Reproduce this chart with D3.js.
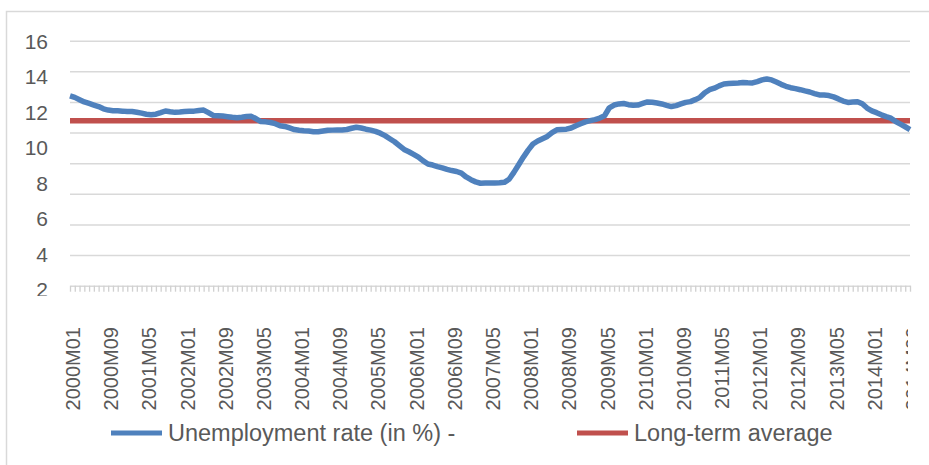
<!DOCTYPE html>
<html>
<head>
<meta charset="utf-8">
<script src="https://cdn.jsdelivr.net/npm/d3@7"></script>
<style>
  html, body { margin: 0; padding: 0; background: #fff; }
  svg { display: block; font-family: "Liberation Sans", Arial, sans-serif; }
</style>
</head>
<body>
<div id="chart"></div>
<script>
// categories: monthly, 2000M01 .. 2014M09
var years = [2000, 2001, 2002, 2003, 2004, 2005, 2006, 2007, 2008, 2009, 2010, 2011, 2012, 2013, 2014];
var months = [];
years.forEach(function (yr) {
  for (var m = 1; m <= 12; m++) {
    if (yr === 2014 && m > 9) break;
    months.push(yr + 'M' + (m < 10 ? '0' + m : m));
  }
});

// unemployment rate (in %), one row per year
var unemploymentRate = [
  12.40, 12.30, 12.15, 12.00, 11.90, 11.80, 11.70, 11.55, 11.47, 11.43, 11.42, 11.40,
  11.37, 11.38, 11.33, 11.27, 11.20, 11.17, 11.20, 11.30, 11.41, 11.36, 11.32, 11.34,
  11.37, 11.39, 11.40, 11.44, 11.47, 11.30, 11.12, 11.10, 11.08, 11.04, 11.00, 10.97,
  11.00, 11.05, 11.06, 10.90, 10.72, 10.70, 10.66, 10.58, 10.45, 10.40, 10.30, 10.20,
  10.15, 10.12, 10.10, 10.06, 10.05, 10.10, 10.15, 10.16, 10.17, 10.17, 10.20, 10.28,
  10.35, 10.30, 10.22, 10.16, 10.08, 9.96, 9.80, 9.60, 9.40, 9.15, 8.90, 8.75,
  8.58, 8.40, 8.15, 7.95, 7.88, 7.78, 7.70, 7.60, 7.52, 7.46, 7.35, 7.10,
  6.92, 6.78, 6.69, 6.70, 6.70, 6.71, 6.72, 6.75, 6.95, 7.40, 7.90, 8.40,
  8.85, 9.25, 9.45, 9.60, 9.75, 10.00, 10.18, 10.20, 10.22, 10.30, 10.45, 10.58,
  10.70, 10.78, 10.85, 10.95, 11.10, 11.62, 11.80, 11.87, 11.90, 11.82, 11.78, 11.80,
  11.90, 12.00, 11.98, 11.93, 11.87, 11.78, 11.70, 11.76, 11.87, 11.97, 12.02, 12.15,
  12.30, 12.60, 12.80, 12.90, 13.05, 13.17, 13.20, 13.22, 13.24, 13.27, 13.25, 13.24,
  13.33, 13.44, 13.50, 13.44, 13.30, 13.15, 13.02, 12.93, 12.87, 12.80, 12.72, 12.65,
  12.55, 12.46, 12.45, 12.42, 12.33, 12.20, 12.06, 11.97, 12.00, 12.02, 11.88, 11.60,
  11.42, 11.30, 11.16, 11.04, 10.94, 10.72, 10.55, 10.38, 10.20
];
var longTermAverage = 10.78;

var gridValues = [0, 2, 4, 6, 8, 10, 12, 14, 16];
var yTickLabels = [2, 4, 6, 8, 10, 12, 14, 16];
var xTickLabels = ['2000M01', '2000M09', '2001M05', '2002M01', '2002M09', '2003M05', '2004M01', '2004M09',
  '2005M05', '2006M01', '2006M09', '2007M05', '2008M01', '2008M09', '2009M05', '2010M01', '2010M09',
  '2011M05', '2012M01', '2012M09', '2013M05', '2014M01', '2014M09'];

var seriesNames = ['Unemployment rate (in %) -', 'Long-term average'];
var seriesColors = ['#4F81BD', '#C0504D'];

(function () {
  'use strict';
  var width = 929, height = 465;
  var textColor = '#595959', gridColor = '#d9d9d9';

  var svg = d3.select('#chart').append('svg').attr('width', width).attr('height', height);

  // chart area frame
  svg.append('rect').attr('x', 6.5).attr('y', 11.5).attr('width', 1000).attr('height', 1000)
    .attr('fill', 'none').attr('stroke', gridColor).attr('stroke-width', 1.5);

  var x = d3.scalePoint().domain(months).range([70, 910]);
  var y = d3.scaleLinear().domain([0, 16]).range([285.7, 40.7]);
  // value labels are laid out on their own spacing in the reference
  var yLabel = d3.scaleLinear().domain([2, 16]).range([290.2, 41.7]);

  var defs = svg.append('defs');
  defs.append('clipPath').attr('id', 'ylab-clip').append('rect').attr('x', 0).attr('y', 0).attr('width', 70).attr('height', 296);
  defs.append('clipPath').attr('id', 'xlab-clip').append('rect').attr('x', 0).attr('y', 290).attr('width', 908).attr('height', 130);

  // gridlines
  svg.append('g').attr('class', 'grid')
    .attr('transform', 'translate(70,0)')
    .call(d3.axisLeft(y).tickValues(gridValues.slice(1)).tickSize(-840).tickFormat(''))
    .call(function (g) { g.select('.domain').remove(); })
    .selectAll('.tick line').attr('stroke', gridColor).attr('stroke-width', 1.5);

  // category axis with a tick per month
  var xAxis = svg.append('g').attr('transform', 'translate(0,' + y(0) + ')')
    .call(d3.axisBottom(x).tickSize(6).tickSizeOuter(0).tickFormat(''));
  xAxis.select('.domain').attr('stroke', gridColor).attr('stroke-width', 1.5);
  xAxis.selectAll('.tick line').attr('stroke', '#d0d0d0').attr('stroke-width', 1.3);

  // y labels (bottom one is cut off in the reference)
  var yAxis = svg.append('g').attr('clip-path', 'url(#ylab-clip)')
    .append('g').attr('transform', 'translate(48,0)')
    .call(d3.axisLeft(yLabel).tickValues(yTickLabels).tickSize(0).tickPadding(0));
  yAxis.select('.domain').remove();
  yAxis.selectAll('text').attr('fill', textColor).attr('font-size', 21)
    .attr('font-family', '"Liberation Sans", Arial, sans-serif');

  // x labels, rotated
  svg.append('g').attr('clip-path', 'url(#xlab-clip)')
    .selectAll('text').data(xTickLabels).enter().append('text')
    .attr('transform', function (d) { return 'translate(' + (x(d) + 3) + ',327) rotate(-90)'; })
    .attr('text-anchor', 'end').attr('dy', '0.35em')
    .attr('fill', textColor).attr('font-size', 20)
    .text(function (d) { return d; });

  // long-term average
  svg.append('line')
    .attr('x1', x(months[0])).attr('x2', x(months[months.length - 1]))
    .attr('y1', y(longTermAverage)).attr('y2', y(longTermAverage))
    .attr('stroke', seriesColors[1]).attr('stroke-width', 5.5);

  // unemployment rate
  var line = d3.line()
    .x(function (d, i) { return x(months[i]); })
    .y(function (d) { return y(d); });
  svg.append('path').datum(unemploymentRate).attr('d', line)
    .attr('fill', 'none').attr('stroke', seriesColors[0]).attr('stroke-width', 5.5)
    .attr('stroke-linejoin', 'round');

  // legend
  var legendItems = [{ x: 111, name: seriesNames[0], color: seriesColors[0] },
                     { x: 577, name: seriesNames[1], color: seriesColors[1] }];
  var lg = svg.append('g').selectAll('g').data(legendItems).enter().append('g')
    .attr('transform', function (d) { return 'translate(' + d.x + ',433)'; });
  lg.append('line').attr('x1', 0).attr('x2', 51).attr('y1', 0).attr('y2', 0)
    .attr('stroke', function (d) { return d.color; }).attr('stroke-width', 5);
  lg.append('text').attr('x', 57).attr('dy', '0.35em')
    .attr('fill', textColor).attr('font-size', 23.5)
    .text(function (d) { return d.name; });
})();
</script>
</body>
</html>
